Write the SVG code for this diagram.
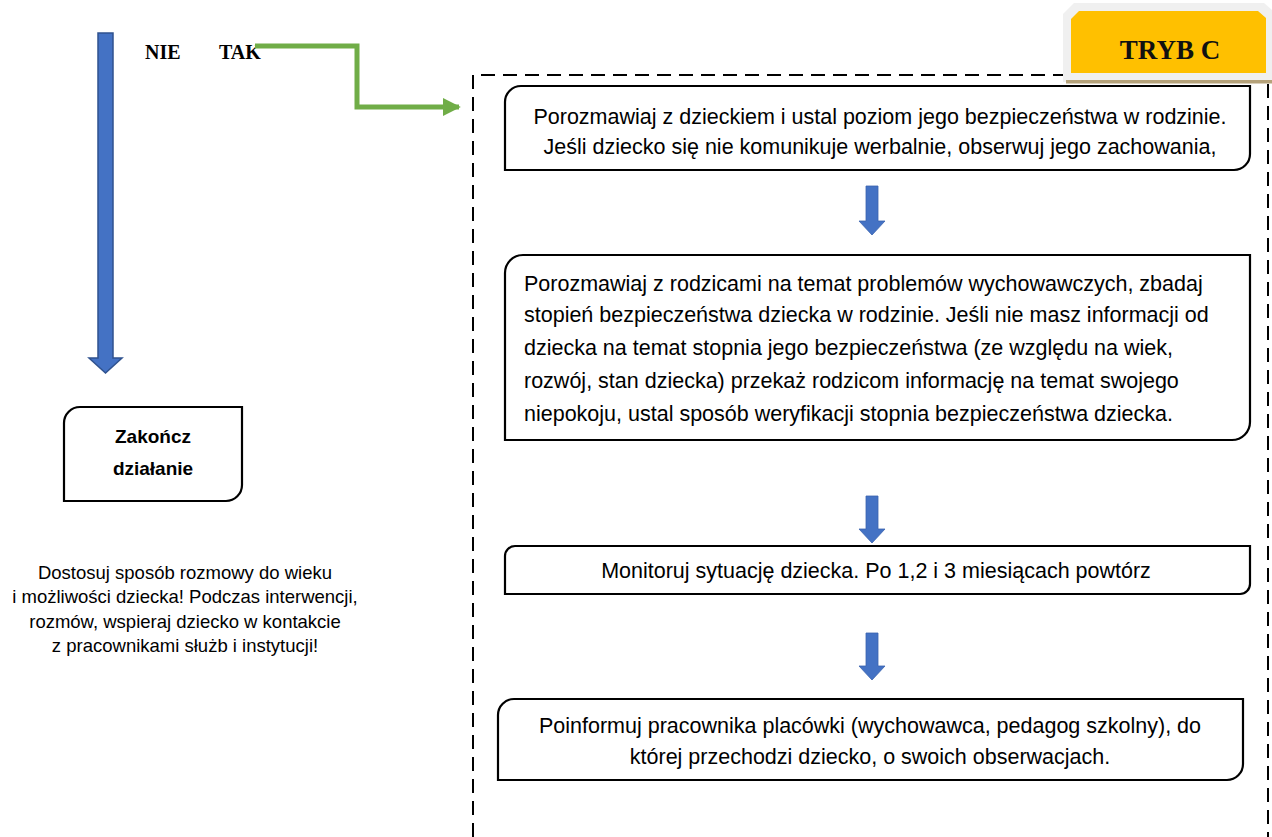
<svg xmlns="http://www.w3.org/2000/svg" width="1272" height="837" viewBox="0 0 1272 837">
<style>
.box{fill:#fff;stroke:#000;stroke-width:2.2}
.t{font-family:"Liberation Sans",Arial,sans-serif;font-size:21.5px;fill:#000}
.tc{text-anchor:middle}
.note{font-family:"Liberation Sans",Arial,sans-serif;font-size:18.5px;fill:#000;text-anchor:middle}
.yn{font-family:"Liberation Serif","Times New Roman",serif;font-size:20px;font-weight:bold;fill:#000}
.zk{font-family:"Liberation Sans",Arial,sans-serif;font-size:19px;font-weight:bold;fill:#000;text-anchor:middle}
.blue{fill:#4472C4;stroke:#2F528F;stroke-width:1.5}
.sblue{fill:#4472C4;stroke:#3A63AE;stroke-width:0.8}
</style>
<defs>
<marker id="gh" viewBox="0 0 10 10" refX="9" refY="5" markerWidth="3.6" markerHeight="3.6" markerUnits="strokeWidth" orient="auto">
<path d="M0,0 L10,5 L0,10 Z" fill="#70AD47"/>
</marker>
</defs>
<rect width="1272" height="837" fill="#fff"/>

<g id="container">
<path d="M473,837 V75 H1065" fill="none" stroke="#000" stroke-width="2" stroke-dasharray="14,8"/>
<path d="M1268,84 V837" fill="none" stroke="#000" stroke-width="2" stroke-dasharray="14,8"/>
</g>

<g id="tryb-c">
<path d="M1074,3 H1264 L1272,10 V82 H1063 V14 Z" fill="#F0F0F0"/>
<rect x="1066" y="80" width="206" height="3.5" fill="#B5A27A"/>
<path d="M1079,11 H1258 L1266,18 V73 H1071 V19 Z" fill="#FFC000"/>
<text x="1170" y="59" text-anchor="middle" font-family="Liberation Serif,'Times New Roman',serif" font-size="27" font-weight="bold" fill="#111">TRYB C</text>
</g>

<g id="labels-nie-tak">
<text x="145" y="59" class="yn">NIE</text>
<text x="219" y="59" class="yn">TAK</text>
</g>

<g id="connectors">
<path d="M98,33 H113 V358 H122 L105.5,373 L89,358 H98 Z" class="blue"/>
<polyline points="255,46 357,46 357,107 459,107" fill="none" stroke="#70AD47" stroke-width="5" marker-end="url(#gh)"/>
<path d="M866,186 H878 V221 H885 L872,235 L859,221 H866 Z" class="sblue"/>
<path d="M866,496 H878 V529 H885 L872,543 L859,529 H866 Z" class="sblue"/>
<path d="M866,633 H878 V666 H885 L872,680 L859,666 H866 Z" class="sblue"/>
</g>

<g id="node-rozmowa-dziecko">
<path class="box" d="M521,86 H1250 V154 A16,16 0 0 1 1234,170 H505 V102 A16,16 0 0 1 521,86 Z"/>
<text class="t tc" x="880" y="124">Porozmawiaj z dzieckiem i ustal poziom jego bezpieczeństwa w rodzinie.</text>
<text class="t tc" x="880" y="154">Jeśli dziecko się nie komunikuje werbalnie, obserwuj jego zachowania,</text>
</g>

<g id="node-rozmowa-rodzice">
<path class="box" d="M523,255 H1250 V422 A18,18 0 0 1 1232,440 H505 V273 A18,18 0 0 1 523,255 Z"/>
<text class="t" x="524" y="291">Porozmawiaj z rodzicami na temat problemów wychowawczych, zbadaj</text>
<text class="t" x="524" y="322">stopień bezpieczeństwa dziecka w rodzinie. Jeśli nie masz informacji od</text>
<text class="t" x="524" y="355">dziecka na temat stopnia jego bezpieczeństwa (ze względu na wiek,</text>
<text class="t" x="524" y="388">rozwój, stan dziecka) przekaż rodzicom informację na temat swojego</text>
<text class="t" x="524" y="421">niepokoju, ustal sposób weryfikacji stopnia bezpieczeństwa dziecka.</text>
</g>

<g id="node-monitoruj">
<path class="box" d="M515,546 H1250 V584 A10,10 0 0 1 1240,594 H505 V556 A10,10 0 0 1 515,546 Z"/>
<text class="t tc" x="876" y="578">Monitoruj sytuację dziecka. Po 1,2 i 3 miesiącach powtórz</text>
</g>

<g id="node-poinformuj">
<path class="box" d="M514,699 H1243 V764 A16,16 0 0 1 1227,780 H498 V715 A16,16 0 0 1 514,699 Z"/>
<text class="t tc" x="870" y="733">Poinformuj pracownika placówki (wychowawca, pedagog szkolny), do</text>
<text class="t tc" x="870" y="764">której przechodzi dziecko, o swoich obserwacjach.</text>
</g>

<g id="node-zakoncz">
<path class="box" d="M80,407 H242 V485 A16,16 0 0 1 226,501 H64 V423 A16,16 0 0 1 80,407 Z"/>
<text class="zk" x="153" y="443">Zakończ</text>
<text class="zk" x="153" y="475">działanie</text>
</g>

<g id="note">
<text class="note" x="185" y="579">Dostosuj sposób rozmowy do wieku</text>
<text class="note" x="185" y="603">i możliwości dziecka! Podczas interwencji,</text>
<text class="note" x="185" y="628">rozmów, wspieraj dziecko w kontakcie</text>
<text class="note" x="185" y="652">z pracownikami służb i instytucji!</text>
</g>
</svg>
